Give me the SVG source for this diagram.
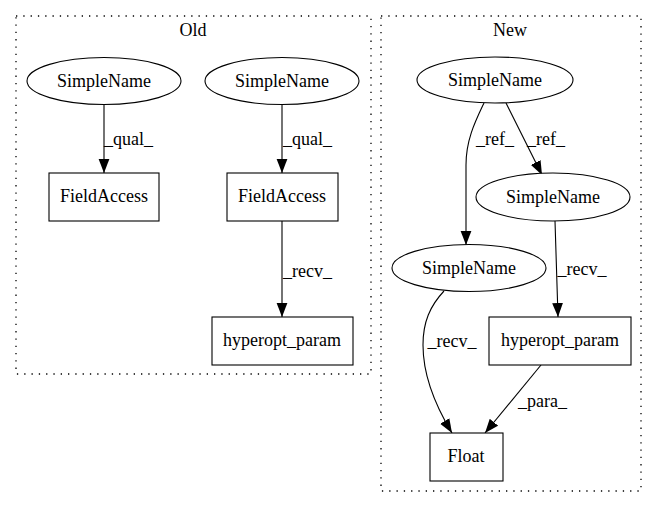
<svg xmlns="http://www.w3.org/2000/svg" width="657" height="508" viewBox="0 0 657 508">
<style>
text{font-family:"Liberation Serif","Times New Roman",serif;font-size:18px;fill:#000}
.c{text-anchor:middle}
.n{fill:#fff;stroke:#000;stroke-width:1.1}
.cl{fill:none;stroke:#000;stroke-width:1.3;stroke-dasharray:1.3,6}
.e{fill:none;stroke:#000;stroke-width:1.1;marker-end:url(#a)}
</style>
<defs>
<marker id="a" markerUnits="userSpaceOnUse" markerWidth="14" markerHeight="12" refX="13" refY="5" orient="auto" viewBox="0 0 13 10">
<path d="M0,0L13,5L0,10z" fill="#000"/>
</marker>
</defs>
<rect width="657" height="508" fill="#fff"/>
<g id="cluster_old">
<rect class="cl" x="16" y="16" width="355" height="358"/>
<text class="c" x="193" y="36">Old</text>
</g>
<g id="cluster_new">
<rect class="cl" x="381" y="16" width="260" height="475"/>
<text class="c" x="510" y="36">New</text>
</g>
<g id="connectors">
<path class="e" d="M104,105L104,173"/>
<text class="c" x="128.5" y="145">_qual_</text>
<path class="e" d="M282,105L282,173"/>
<text class="c" x="307.5" y="145">_qual_</text>
<path class="e" d="M282,221L282,317"/>
<text class="c" x="307.5" y="277">_recv_</text>
<path class="e" d="M484,103C475,122 466,140 466,165C466,195 466,220 466,245"/>
<text class="c" x="495" y="145">_ref_</text>
<path class="e" d="M506,103L542,175"/>
<text class="c" x="546" y="145">_ref_</text>
<path class="e" d="M555,221L558,317"/>
<text class="c" x="582" y="275">_recv_</text>
<path class="e" d="M444,291C430,306 423,322 423,345C423,380 438,410 452,433"/>
<text class="c" x="452" y="347">_recv_</text>
<path class="e" d="M541,365L485,433"/>
<text class="c" x="542.5" y="407">_para_</text>
</g>
<g id="old_sn1">
<ellipse class="n" cx="104" cy="81" rx="77" ry="23.5"/>
<text class="c" x="104" y="87">SimpleName</text>
</g>
<g id="old_sn2">
<ellipse class="n" cx="282" cy="81" rx="77" ry="23.5"/>
<text class="c" x="282" y="87">SimpleName</text>
</g>
<g id="old_fa1">
<rect class="n" x="49" y="173" width="110" height="48"/>
<text class="c" x="104" y="202">FieldAccess</text>
</g>
<g id="old_fa2">
<rect class="n" x="227" y="173" width="111" height="48"/>
<text class="c" x="282" y="202">FieldAccess</text>
</g>
<g id="old_hp">
<rect class="n" x="212" y="317" width="141" height="48"/>
<text class="c" x="282" y="346">hyperopt_param</text>
</g>
<g id="new_sn_top">
<ellipse class="n" cx="495" cy="80" rx="78" ry="23"/>
<text class="c" x="495" y="86">SimpleName</text>
</g>
<g id="new_sn_right">
<ellipse class="n" cx="553" cy="197" rx="77" ry="24"/>
<text class="c" x="553" y="203">SimpleName</text>
</g>
<g id="new_sn_left">
<ellipse class="n" cx="469" cy="268" rx="77" ry="23.5"/>
<text class="c" x="469" y="274">SimpleName</text>
</g>
<g id="new_hp">
<rect class="n" x="489" y="317" width="142" height="48"/>
<text class="c" x="560" y="346">hyperopt_param</text>
</g>
<g id="new_float">
<rect class="n" x="430" y="433" width="73" height="48"/>
<text class="c" x="466" y="462">Float</text>
</g>
</svg>
